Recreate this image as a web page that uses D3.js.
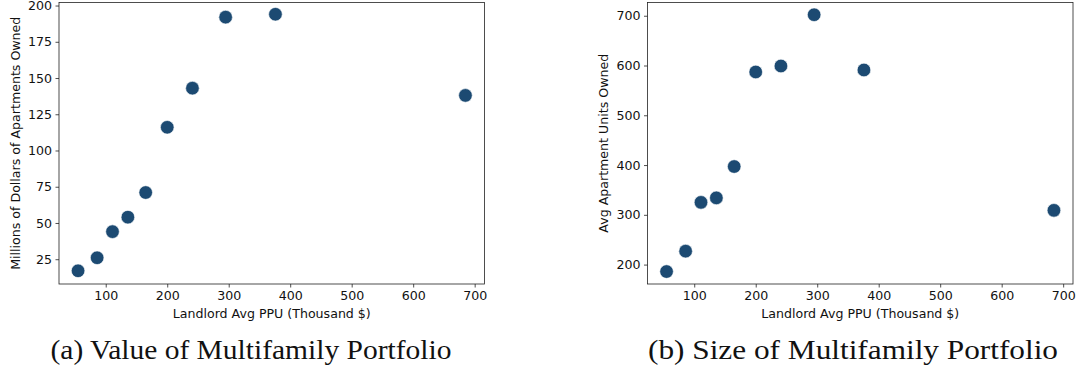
<!DOCTYPE html>
<html>
<head>
<meta charset="utf-8">
<script src="https://cdn.jsdelivr.net/npm/d3@7"></script>
<style>
  body { margin: 0; background: #fff; }
  svg { display: block; }
  .tick text { font-family: "DejaVu Sans", sans-serif; font-size: 12.6px; fill: #111; }
  .axis-label { font-family: "DejaVu Sans", sans-serif; font-size: 12.6px; fill: #111; }
  .caption { font-family: "Liberation Serif", "DejaVu Serif", serif; font-size: 28px; fill: #111; }
</style>
</head>
<body>
<div id="chart"></div>
<script>
// landlord average price per unit, thousand $
var ppu = [55, 86, 111, 136, 165, 200, 241, 295, 376, 685];
// millions of dollars of apartments owned
var valueOwned = [17, 26, 44, 54, 71, 116, 143, 192, 194, 138];
// average apartment units owned
var unitsOwned = [186, 227, 325, 334, 397, 587, 599, 702, 591, 309];

var xTicks = [100, 200, 300, 400, 500, 600, 700];
var valueTicks = [25, 50, 75, 100, 125, 150, 175, 200];
var unitsTicks = [200, 300, 400, 500, 600, 700];

var W = 1077, H = 374;
var dotColour = '#1c4a72';

var svg = d3.select('#chart').append('svg')
  .attr('width', W)
  .attr('height', H);

function scatter(opts) {
  var g = svg.append('g');

  var x = d3.scaleLinear().domain([24, 716]).range([opts.left, opts.right]);
  var y = d3.scaleLinear().domain(opts.yDomain).range([opts.bottom, opts.top]);

  g.append('g')
    .attr('transform', 'translate(0,' + opts.bottom + ')')
    .call(d3.axisBottom(x).tickValues(xTicks).tickSize(3.5).tickPadding(3.5).tickFormat(d3.format('d')))
    .call(function(a) { a.select('.domain').remove(); });

  g.append('g')
    .attr('transform', 'translate(' + opts.left + ',0)')
    .call(d3.axisLeft(y).tickValues(opts.yTicks).tickSize(3.5).tickPadding(3.5).tickFormat(d3.format('d')))
    .call(function(a) { a.select('.domain').remove(); });

  g.selectAll('.tick line').attr('stroke', '#222').attr('stroke-width', 0.8);

  g.append('rect')
    .attr('x', opts.left)
    .attr('y', opts.top)
    .attr('width', opts.right - opts.left)
    .attr('height', opts.bottom - opts.top)
    .attr('fill', 'none')
    .attr('stroke', '#222')
    .attr('stroke-width', 0.8);

  g.selectAll('circle')
    .data(ppu)
    .enter()
    .append('circle')
    .attr('cx', function(d) { return x(d); })
    .attr('cy', function(d, i) { return y(opts.values[i]); })
    .attr('r', 6.8)
    .attr('fill', dotColour)
    .attr('stroke', '#fff')
    .attr('stroke-width', 0.6);

  g.append('text')
    .attr('class', 'axis-label')
    .attr('x', (opts.left + opts.right) / 2)
    .attr('y', 318)
    .attr('text-anchor', 'middle')
    .text('Landlord Avg PPU (Thousand $)');

  g.append('text')
    .attr('class', 'axis-label')
    .attr('transform', 'translate(' + opts.yLabelX + ',' + (opts.top + opts.bottom) / 2 + ') rotate(-90)')
    .attr('text-anchor', 'middle')
    .text(opts.yLabel);

  g.append('text')
    .attr('class', 'caption')
    .attr('x', opts.captionX)
    .attr('y', 359)
    .attr('text-anchor', 'middle')
    .attr('textLength', opts.captionWidth)
    .attr('lengthAdjust', 'spacingAndGlyphs')
    .text(opts.caption);
}

scatter({
  left: 59, right: 484.5, top: 2.5, bottom: 284,
  yDomain: [7.9, 202.1],
  yTicks: valueTicks,
  values: valueOwned,
  yLabel: 'Millions of Dollars of Apartments Owned',
  yLabelX: 19.5,
  caption: '(a) Value of Multifamily Portfolio',
  captionX: 251,
  captionWidth: 401
});

scatter({
  left: 647.5, right: 1073, top: 2.5, bottom: 284,
  yDomain: [161, 726.6],
  yTicks: unitsTicks,
  values: unitsOwned,
  yLabel: 'Avg Apartment Units Owned',
  yLabelX: 607.5,
  caption: '(b) Size of Multifamily Portfolio',
  captionX: 853,
  captionWidth: 410
});
</script>
</body>
</html>
